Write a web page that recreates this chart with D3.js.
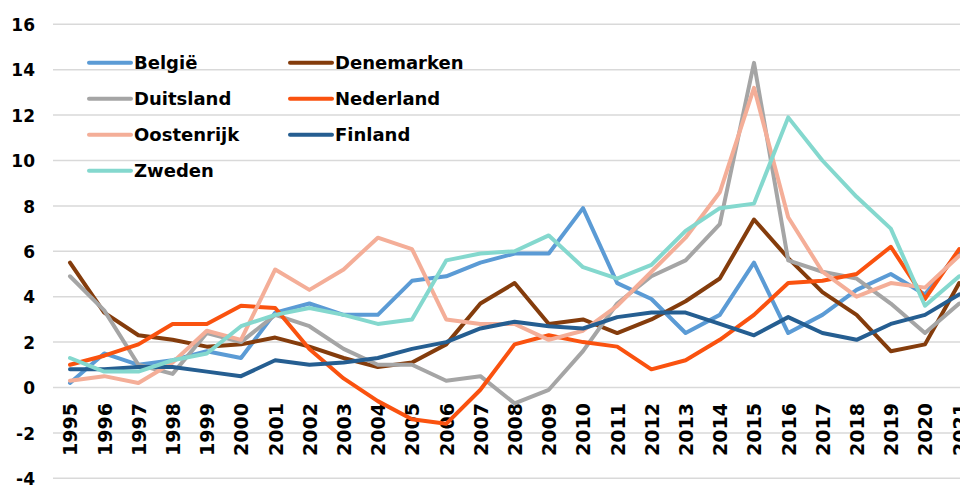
<!DOCTYPE html>
<html>
<head>
<meta charset="utf-8">
<script src="https://cdn.jsdelivr.net/npm/d3@7"></script>
<style>
  html, body { margin: 0; padding: 0; background: #fff; }
  svg { display: block; }
  text { font-family: "DejaVu Sans", Verdana, sans-serif; font-weight: bold; fill: #000; }
</style>
</head>
<body>
<div id="chart"></div>
<script>
const years = [1995,1996,1997,1998,1999,2000,2001,2002,2003,2004,2005,2006,2007,2008,2009,2010,2011,2012,2013,2014,2015,2016,2017,2018,2019,2020,2021];
const yTicks = [-4,-2,0,2,4,6,8,10,12,14,16];

const belgie      = [0.2,1.5,1.0,1.2,1.6,1.3,3.3,3.7,3.2,3.2,4.7,4.9,5.5,5.9,5.9,7.9,4.6,3.9,2.4,3.2,5.5,2.4,3.2,4.3,5.0,4.1,6.0];
const denemarken  = [5.5,3.3,2.3,2.1,1.8,1.9,2.2,1.8,1.3,0.9,1.1,1.9,3.7,4.6,2.8,3.0,2.4,3.0,3.8,4.8,7.4,5.7,4.2,3.2,1.6,1.9,4.6];
const duitsland   = [4.9,3.4,1.0,0.6,2.4,2.0,3.2,2.7,1.7,1.0,1.0,0.3,0.5,-0.7,-0.1,1.6,3.7,4.9,5.6,7.2,14.3,5.6,5.1,4.8,3.7,2.4,3.7];
const nederland   = [1.0,1.4,1.9,2.8,2.8,3.6,3.5,1.7,0.4,-0.6,-1.4,-1.6,-0.1,1.9,2.3,2.0,1.8,0.8,1.2,2.1,3.2,4.6,4.7,5.0,6.2,3.9,6.1];
const oostenrijk  = [0.3,0.5,0.2,1.1,2.5,2.1,5.2,4.3,5.2,6.6,6.1,3.0,2.8,2.8,2.1,2.5,3.6,5.1,6.6,8.6,13.2,7.5,5.1,4.0,4.6,4.4,5.8];
const finland     = [0.8,0.8,0.9,0.9,0.7,0.5,1.2,1.0,1.1,1.3,1.7,2.0,2.6,2.9,2.7,2.6,3.1,3.3,3.3,2.8,2.3,3.1,2.4,2.1,2.8,3.2,4.1];
const zweden      = [1.3,0.7,0.7,1.2,1.5,2.7,3.2,3.5,3.2,2.8,3.0,5.6,5.9,6.0,6.7,5.3,4.8,5.4,6.9,7.9,8.1,11.9,10.0,8.4,7.0,3.6,4.9];

const seriesNames = ["België","Denemarken","Duitsland","Nederland","Oostenrijk","Finland","Zweden"];
const seriesValues = [belgie, denemarken, duitsland, nederland, oostenrijk, finland, zweden];
const seriesColors = ["#5B9BD5","#843C0C","#A5A5A5","#FA520F","#F4AE98","#255E91","#84D8CE"];

const W = 960, H = 485;
const svg = d3.select("#chart").append("svg").attr("width", W).attr("height", H);

const x = d3.scalePoint().domain(years).range([70, 70 + 26 * 34.2]);
const y = d3.scaleLinear().domain([-4, 16]).range([478.3, 24.3]);

// gridlines
svg.append("g").selectAll("line").data(yTicks).join("line")
  .attr("x1", 53).attr("x2", W)
  .attr("y1", d => y(d)).attr("y2", d => y(d))
  .attr("stroke", "#D9D9D9").attr("stroke-width", 1.5);

// y axis labels
const yAxis = d3.axisLeft(y).tickValues(yTicks).tickSize(0).tickPadding(0).tickFormat(d => String(d));
const gy = svg.append("g").attr("transform", "translate(35,0)").call(yAxis);
gy.select(".domain").remove();
gy.selectAll("text").attr("font-size", 17).attr("font-family", '"DejaVu Sans", sans-serif')
  .attr("font-weight", "bold").attr("fill", "#000").attr("dy", "0.36em").attr("x", 0);

// x labels
const xAxis = d3.axisBottom(x).tickSize(0).tickPadding(0).tickFormat(d => String(d));
const gx = svg.append("g").attr("transform", "translate(0,403)").call(xAxis);
gx.select(".domain").remove();
gx.selectAll("text")
  .attr("font-size", 19).attr("font-family", '"DejaVu Sans", sans-serif')
  .attr("font-weight", "bold").attr("fill", "#000")
  .attr("text-anchor", "end")
  .attr("transform", "rotate(-90)")
  .attr("x", 0).attr("y", 0).attr("dy", "0.36em");

// lines
const line = d3.line().x((d, i) => x(years[i])).y(d => y(d));
svg.append("g").selectAll("path").data(seriesValues).join("path")
  .attr("d", d => line(d))
  .attr("fill", "none")
  .attr("stroke", (d, i) => seriesColors[i])
  .attr("stroke-width", 4)
  .attr("stroke-linejoin", "round")
  .attr("stroke-linecap", "round");

// legend
const legend = svg.append("g");
seriesNames.forEach((name, i) => {
  const col = i % 2, row = Math.floor(i / 2);
  const lx = col === 0 ? 89 : 290;
  const ly = 62.7 + row * 36;
  legend.append("line").attr("x1", lx).attr("x2", lx + 42)
    .attr("y1", ly).attr("y2", ly)
    .attr("stroke", seriesColors[i]).attr("stroke-width", 4).attr("stroke-linecap", "round");
  legend.append("text").attr("x", lx + 45).attr("y", ly).attr("dy", "0.36em")
    .attr("font-size", 18).text(name);
});
</script>
</body>
</html>
